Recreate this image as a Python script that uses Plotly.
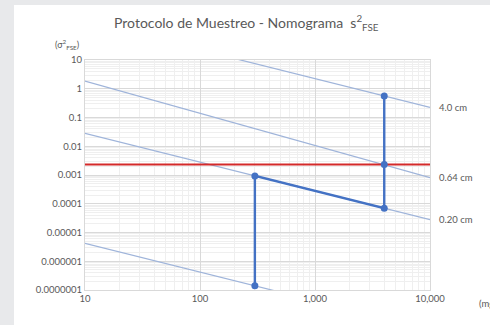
import math
import plotly.graph_objects as go

# ---- data ----
line_x = [10, 10000]
line_a_y = [225, 0.225]          # 4.0 cm
line_b_x = [10, 4000, 10000]
line_b_y = [1.85, 0.0023, 0.00081]  # 0.64 cm
line_c_y = [0.028, 0.000028]     # 0.20 cm
line_d_y = [4.2e-6, 4.2e-9]      # lowest line
line_labels = ["4.0 cm", "0.64 cm", "0.20 cm"]
label_y = [0.225, 0.00081, 0.000028]

path_x = [4000, 4000, 4000, 300, 300]
path_y = [0.56, 0.0023, 0.00007, 0.00093, 0.00000014]

limit_x = [10, 10000]
limit_y = [0.0023, 0.0023]

x_tickvals = [10, 100, 1000, 10000]
x_ticktext = ["10", "100", "1,000", "10,000"]
y_tickvals = [10, 1, 0.1, 0.01, 0.001, 0.0001, 0.00001, 0.000001, 0.0000001]
y_ticktext = ["10", "1", "0.1", "0.01", "0.001", "0.0001", "0.00001", "0.000001", "0.0000001"]

FONT = "Lato"
GREY = "#595959"
THIN = "#9fb4da"
BLUE = "#4472C4"
RED = "#d42a2a"

fig = go.Figure()
for xs, ys in [(line_x, line_a_y), (line_b_x, line_b_y), (line_x, line_c_y), (line_x, line_d_y)]:
    fig.add_trace(go.Scatter(x=xs, y=ys, mode="lines", line=dict(color=THIN, width=1.2),
                             hoverinfo="skip", showlegend=False))
fig.add_trace(go.Scatter(x=limit_x, y=limit_y, mode="lines", line=dict(color=RED, width=2),
                         showlegend=False))
fig.add_trace(go.Scatter(x=path_x, y=path_y, mode="lines+markers",
                         line=dict(color=BLUE, width=2.4),
                         marker=dict(color=BLUE, size=7), showlegend=False))

for txt, yv in zip(line_labels, label_y):
    fig.add_annotation(x=1.02, xref="paper", y=math.log10(yv), yref="y", text=txt, showarrow=False,
                       xanchor="left", yanchor="middle",
                       font=dict(family=FONT, size=9.5, color=GREY))

minor_x = [m * 10 ** e for e in range(1, 4) for m in range(2, 10)]
minor_y = [m * 10 ** e for e in range(-7, 1) for m in range(2, 10)]

fig.update_xaxes(type="log", range=[1, 4], tickvals=x_tickvals, ticktext=x_ticktext,
                 showgrid=True, gridcolor="#d9d9d9", gridwidth=1,
                 minor=dict(tickvals=minor_x, showgrid=True, gridcolor="#efefef", gridwidth=1, ticks=""),
                 showline=True, linecolor="#d9d9d9", mirror=True, ticks="",
                 zeroline=False, tickfont=dict(family=FONT, size=9.5, color=GREY))
fig.update_yaxes(type="log", range=[-7, 1], tickvals=y_tickvals, ticktext=y_ticktext,
                 showgrid=True, gridcolor="#d9d9d9", gridwidth=1,
                 minor=dict(tickvals=minor_y, showgrid=True, gridcolor="#efefef", gridwidth=1, ticks=""),
                 showline=True, linecolor="#d9d9d9", mirror=True, ticks="",
                 zeroline=False, tickfont=dict(family=FONT, size=9.5, color=GREY))

L, R, T, B = 85, 60, 60, 35
W, H = 490, 325
pw, ph = W - L - R, H - T - B
fig.add_shape(type="rect", xref="paper", yref="paper", layer="below",
              x0=(14 - L) / pw, x1=(W + 5 - L) / pw, y0=-(B + 5) / ph, y1=(H - B - 5) / ph,
              fillcolor="white", line=dict(width=0))

fig.add_annotation(x=(246 - L) / pw, xref="paper", y=(H - B - 22) / ph, yref="paper",
                   text="Protocolo de Muestreo - Nomograma  s<sup>2</sup><sub>FSE</sub>",
                   showarrow=False, xanchor="center", yanchor="middle",
                   font=dict(family=FONT, size=14, color=GREY))
fig.add_annotation(x=(67 - L) / pw, xref="paper", y=(H - B - 45) / ph, yref="paper",
                   text="(σ<sup>2</sup><sub>FSE</sub>)", showarrow=False,
                   xanchor="center", yanchor="middle",
                   font=dict(family=FONT, size=9, color=GREY))
fig.add_annotation(x=(477 - L) / pw, xref="paper", y=-(303 - (H - B)) / ph, yref="paper",
                   text="(mg)", showarrow=False, xanchor="left", yanchor="middle",
                   font=dict(family=FONT, size=9.5, color=GREY))

fig.update_layout(width=W, height=H, margin=dict(l=L, r=R, t=T, b=B),
                  paper_bgcolor="#e8e9eb", plot_bgcolor="white",
                  font=dict(family=FONT, color=GREY), showlegend=False)

fig.write_html("out.html", config={"displayModeBar": False},
               post_script="document.body.style.margin='0';document.body.style.overflow='hidden';")
